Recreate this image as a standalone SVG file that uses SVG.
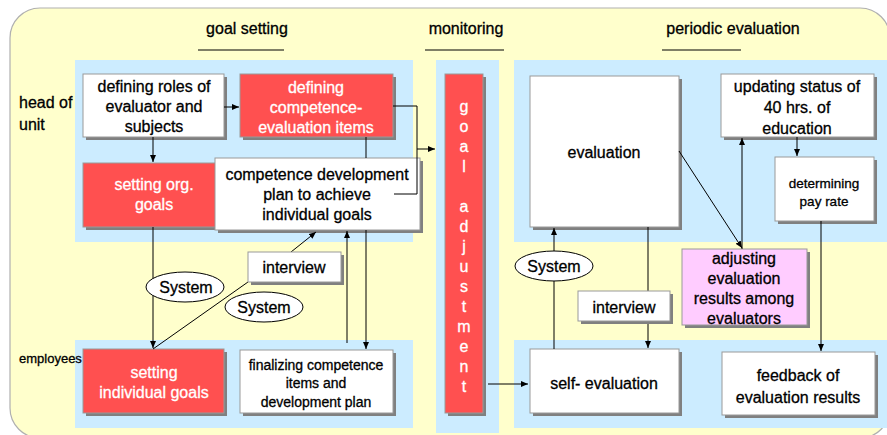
<svg xmlns="http://www.w3.org/2000/svg" width="887" height="435" viewBox="0 0 887 435">
<defs>
<marker id="ah" markerWidth="7" markerHeight="6" refX="7" refY="3" orient="auto" markerUnits="userSpaceOnUse"><path d="M0,0 L7,3 L0,6 z" fill="#000"/></marker>
</defs>
<style>
text{font-family:"Liberation Sans",Arial,sans-serif;font-size:16px;fill:#000;stroke:#000;stroke-width:0.3;text-anchor:middle}
.w{fill:#fff;stroke:#999;stroke-width:1}
.r{fill:#FF5050;stroke:#999;stroke-width:1}
.p{fill:#FFCCFF;stroke:#999;stroke-width:1}
.sh{fill:#808080}
text.wt{fill:#fff;stroke:#fff}
.pan{fill:#CCECFF}
.c{stroke:#000;stroke-width:1;fill:none}
.a{marker-end:url(#ah)}
.s13{font-size:13.5px}
.s14{font-size:14px}
.st{text-anchor:start}
.ell{fill:#fff;stroke:#000;stroke-width:1}
</style>
<rect width="887" height="435" fill="#fff"/>
<rect x="10" y="8" width="880" height="430" rx="30" fill="#FFFFCC" stroke="#B0B0B0" stroke-width="1.2"/>

<g id="panels">
<rect class="pan" x="75" y="60" width="338" height="182"/>
<rect class="pan" x="75" y="340" width="338" height="88"/>
<rect class="pan" x="436" y="60" width="63" height="373"/>
<rect class="pan" x="514" y="60" width="376" height="182"/>
<rect class="pan" x="514" y="340" width="376" height="88"/>
</g>

<g id="titles">
<text x="247" y="34">goal setting</text>
<line x1="198" y1="50" x2="284" y2="50" stroke="#000"/>
<text x="466" y="34">monitoring</text>
<line x1="425" y1="50" x2="504" y2="50" stroke="#000"/>
<text x="733" y="34">periodic evaluation</text>
<line x1="662" y1="50" x2="741" y2="50" stroke="#000"/>
<text class="st" x="19" y="108">head of</text>
<text class="st" x="19" y="130">unit</text>
<text class="st" x="19" y="363" style="font-size:13px">employees</text>
</g>

<g id="goal-adjustment">
<rect class="sh" x="448" y="77" width="38" height="339"/>
<rect class="r" x="445" y="74" width="38" height="339"/>
<text class="wt" x="464" y="112">g</text>
<text class="wt" x="464" y="132">o</text>
<text class="wt" x="464" y="152">a</text>
<text class="wt" x="464" y="172">l</text>
<text class="wt" x="464" y="212">a</text>
<text class="wt" x="464" y="232">d</text>
<text class="wt" x="464" y="252">j</text>
<text class="wt" x="464" y="272">u</text>
<text class="wt" x="464" y="292">s</text>
<text class="wt" x="464" y="312">t</text>
<text class="wt" x="464" y="332">m</text>
<text class="wt" x="464" y="352">e</text>
<text class="wt" x="464" y="372">n</text>
<text class="wt" x="464" y="392">t</text>
</g>

<g id="defining-roles">
<rect class="sh" x="86" y="77" width="141" height="63"/>
<rect class="w" x="83" y="74" width="141" height="63"/>
<text x="154" y="92">defining roles of</text>
<text x="154" y="112">evaluator and</text>
<text x="154" y="132">subjects</text>
</g>

<g id="defining-items">
<rect class="sh" x="243" y="77" width="153" height="63"/>
<rect class="r" x="240" y="74" width="153" height="63"/>
<text class="wt" x="316" y="93">defining</text>
<text class="wt" x="316" y="113">competence-</text>
<text class="wt" x="316" y="133">evaluation items</text>
</g>

<g id="setting-org-goals">
<rect class="sh" x="86" y="166" width="141" height="64"/>
<rect class="r" x="83" y="163" width="141" height="64"/>
<text class="wt" x="154" y="190">setting org.</text>
<text class="wt" x="154" y="210">goals</text>
</g>

<g id="competence-plan">
<rect class="sh" x="218" y="161" width="205" height="72"/>
<rect class="w" x="215" y="158" width="205" height="72"/>
<text x="317" y="180">competence development</text>
<text x="317" y="200">plan to achieve</text>
<text x="317" y="220">individual goals</text>
</g>

<g id="setting-individual-goals">
<rect class="sh" x="86" y="352" width="141" height="64"/>
<rect class="r" x="83" y="349" width="141" height="64"/>
<text class="wt" x="154" y="378">setting</text>
<text class="wt" x="154" y="398">individual goals</text>
</g>

<g id="finalizing">
<rect class="sh" x="243" y="353" width="153" height="63"/>
<rect class="w" x="240" y="350" width="153" height="63"/>
<text class="s14" x="316" y="370">finalizing competence</text>
<text class="s14" x="316" y="388">items and</text>
<text class="s14" x="316" y="407">development plan</text>
</g>

<g id="evaluation">
<rect class="sh" x="533" y="79" width="149" height="151"/>
<rect class="w" x="530" y="76" width="149" height="151"/>
<text x="604" y="158">evaluation</text>
</g>

<g id="updating-status">
<rect class="sh" x="724" y="77" width="153" height="63"/>
<rect class="w" x="721" y="74" width="153" height="63"/>
<text x="797" y="92">updating status of</text>
<text x="797" y="113">40 hrs. of</text>
<text x="797" y="134">education</text>
</g>

<g id="pay-rate">
<rect class="sh" x="778" y="160" width="99" height="64"/>
<rect class="w" x="775" y="157" width="99" height="64"/>
<text class="s13" x="824" y="188">determining</text>
<text class="s13" x="824" y="206">pay rate</text>
</g>

<g id="adjusting-results">
<rect class="sh" x="685" y="252" width="125" height="76"/>
<rect class="p" x="682" y="249" width="125" height="76"/>
<text x="744" y="264">adjusting</text>
<text x="744" y="284">evaluation</text>
<text x="744" y="304">results among</text>
<text x="744" y="324">evaluators</text>
</g>

<g id="self-evaluation">
<rect class="sh" x="533" y="352" width="149" height="64"/>
<rect class="w" x="530" y="349" width="149" height="64"/>
<text x="604" y="389">self- evaluation</text>
</g>

<g id="feedback">
<rect class="sh" x="725" y="355" width="153" height="63"/>
<rect class="w" x="722" y="352" width="153" height="63"/>
<text x="798" y="381">feedback of</text>
<text x="798" y="403">evaluation results</text>
</g>

<g id="connectors">
<line class="c a" x1="224" y1="107" x2="239" y2="107"/>
<line class="c a" x1="153" y1="137" x2="153" y2="162"/>
<path class="c" d="M393,106 H417 V194 H394"/>
<line class="c a" x1="417" y1="149" x2="435" y2="149"/>
<line class="c" x1="366" y1="137" x2="366" y2="158"/>
<line class="c a" x1="366" y1="230" x2="366" y2="349"/>
<line class="c a" x1="347" y1="343" x2="347" y2="231"/>
<line class="c a" x1="153" y1="227" x2="153" y2="348"/>
<line class="c" x1="153" y1="349" x2="248" y2="282"/>
<line class="c a" x1="291" y1="252" x2="316" y2="232"/>
<line class="c a" x1="488" y1="384" x2="528" y2="384"/>
<line class="c a" x1="554" y1="349" x2="554" y2="228"/>
<line class="c a" x1="648" y1="227" x2="648" y2="348"/>
<line class="c a" x1="679" y1="151" x2="742" y2="248"/>
<line class="c a" x1="742" y1="249" x2="742" y2="138"/>
<line class="c a" x1="797" y1="137" x2="797" y2="156"/>
<line class="c a" x1="821" y1="221" x2="821" y2="351"/>
</g>

<g id="system-1">
<ellipse class="ell" cx="185" cy="287" rx="39" ry="15"/>
<text x="186" y="293">System</text>
</g>
<g id="system-2">
<ellipse class="ell" cx="264" cy="307" rx="39" ry="15"/>
<text x="264" y="313">System</text>
</g>
<g id="interview-1">
<rect class="sh" x="251" y="255" width="93" height="30"/>
<rect class="w" x="248" y="252" width="93" height="30"/>
<text x="294" y="273">interview</text>
</g>
<g id="system-3">
<ellipse class="ell" cx="554" cy="266" rx="39" ry="15"/>
<text x="554" y="272">System</text>
</g>
<g id="interview-2">
<rect class="sh" x="581" y="294" width="92" height="30"/>
<rect class="w" x="578" y="291" width="92" height="30"/>
<text x="624" y="313">interview</text>
</g>
</svg>
